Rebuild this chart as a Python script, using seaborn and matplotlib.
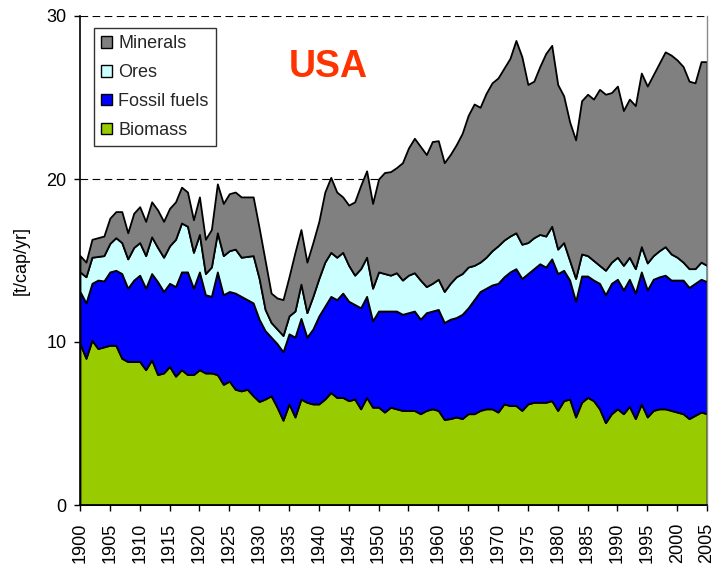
import matplotlib
matplotlib.use("Agg")
import matplotlib.pyplot as plt
from matplotlib.patches import Patch
import numpy as np
import pandas as pd
import seaborn as sns

# Material flows per capita, USA, 1900-2005 [t/cap/yr]
years = list(range(1900, 2006))

biomass = [
    9.9, 9.0, 10.1, 9.6, 9.7, 9.8, 9.8, 9.0, 8.8, 8.8,
    8.8, 8.3, 8.9, 8.0, 8.1, 8.5, 7.9, 8.3, 8.0, 8.0,
    8.3, 8.1, 8.1, 8.0, 7.4, 7.6, 7.1, 7.0, 7.1, 6.7,
    6.35, 6.5, 6.7, 6.0, 5.2, 6.2, 5.4, 6.5, 6.3, 6.2,
    6.2, 6.5, 6.9, 6.6, 6.6, 6.4, 6.5, 5.9, 6.6, 6.0,
    6.0, 5.7, 6.0, 5.9, 5.8, 5.8, 5.8, 5.6, 5.8, 5.9,
    5.8, 5.25, 5.3, 5.4, 5.3, 5.6, 5.6, 5.8, 5.9, 5.9,
    5.7, 6.2, 6.1, 6.1, 5.8, 6.2, 6.3, 6.3, 6.3, 6.4,
    5.8, 6.4, 6.5, 5.4, 6.3, 6.6, 6.4, 5.9, 5.05, 5.6,
    5.9, 5.6, 6.05, 5.3, 6.2, 5.4, 5.8, 5.9, 5.9, 5.8,
    5.7, 5.6, 5.3, 5.5, 5.7, 5.6,
]

fossil_fuels = [
    3.2, 3.4, 3.5, 4.2, 4.05, 4.5, 4.6, 5.2, 4.5, 5.0,
    5.3, 5.0, 5.3, 5.7, 5.0, 5.1, 5.5, 6.0, 6.3, 5.3,
    6.0, 4.8, 4.7, 6.3, 5.5, 5.5, 5.9, 5.8, 5.5, 5.7,
    5.05, 4.2, 3.6, 3.9, 4.2, 4.3, 4.9, 4.95, 4.0, 4.6,
    5.4, 5.7, 5.9, 6.0, 6.4, 6.1, 5.8, 6.2, 6.2, 5.3,
    5.9, 6.2, 5.9, 6.0, 5.9, 6.0, 6.1, 5.8, 6.0, 6.0,
    6.2, 5.95, 6.1, 6.1, 6.4, 6.5, 7.0, 7.3, 7.4, 7.6,
    7.9, 7.8, 8.2, 8.4, 8.1, 8.0, 8.2, 8.5, 8.3, 8.7,
    8.4, 8.0, 7.3, 7.1, 7.75, 7.45, 7.4, 7.7, 7.85, 8.0,
    7.95, 7.6, 7.8, 7.7, 8.1, 7.8, 8.05, 8.1, 8.2, 8.0,
    8.1, 8.2, 8.05, 8.1, 8.15, 8.1,
]

ores = [
    1.2, 1.6, 1.6, 1.45, 1.55, 1.75, 2.0, 1.9, 1.8, 2.0,
    2.0, 2.0, 2.25, 2.1, 2.1, 2.3, 2.9, 3.0, 2.8, 2.2,
    2.3, 1.3, 1.8, 2.4, 2.4, 2.5, 2.7, 2.4, 2.65, 2.9,
    2.5, 1.3, 0.9, 0.9, 1.0, 1.1, 1.6, 2.1, 1.5, 2.0,
    2.3, 2.7, 2.7, 2.6, 2.5, 2.2, 1.8, 2.4, 2.4, 2.0,
    2.4, 2.3, 2.2, 2.35, 2.1, 2.3, 2.35, 2.4, 1.6, 1.7,
    1.85, 1.9, 2.2, 2.5, 2.5, 2.5, 2.1, 1.8, 1.9, 2.1,
    2.3, 2.25, 2.2, 2.2, 2.1, 1.9, 1.9, 1.8, 1.9, 2.0,
    1.5, 1.7, 1.2, 1.4, 1.35, 1.25, 1.2, 1.1, 1.5, 1.3,
    1.35, 1.5, 1.35, 1.5, 1.55, 1.65, 1.45, 1.6, 1.75, 1.6,
    1.4, 1.1, 1.15, 0.9, 1.05, 1.0,
]

minerals = [
    1.0, 0.9, 1.1, 1.15, 1.2, 1.55, 1.6, 1.9, 1.6, 2.1,
    2.2, 2.1, 2.15, 2.3, 2.2, 2.3, 2.3, 2.2, 2.1, 2.0,
    2.3, 2.1, 2.3, 3.0, 3.2, 3.5, 3.5, 3.7, 3.65, 3.6,
    3.1, 3.0, 1.8, 1.9, 2.2, 2.4, 3.6, 3.35, 3.1, 3.3,
    3.5, 4.3, 4.6, 4.0, 3.4, 3.7, 4.5, 5.1, 5.3, 5.2,
    5.7, 6.2, 6.35, 6.45, 7.2, 7.8, 8.25, 8.2, 8.1, 8.7,
    8.5, 7.9, 7.9, 8.1, 8.6, 9.3, 9.9, 9.5, 10.05, 10.3,
    10.3, 10.55, 10.9, 11.8, 11.5, 9.7, 9.6, 10.3, 11.2, 11.1,
    10.1, 9.0, 8.5, 8.5, 9.4, 9.9, 9.9, 10.8, 10.8, 10.4,
    10.5, 9.5, 9.7, 10.0, 10.65, 10.85, 11.1, 11.5, 11.95, 12.2,
    12.1, 12.0, 11.5, 11.4, 12.3, 12.5,
]

series_names = ["Biomass", "Fossil fuels", "Ores", "Minerals"]
series_colors = ["#99CC00", "#0000FF", "#CCFFFF", "#808080"]
x_ticks = list(range(1900, 2006, 5))
x_tick_labels = [str(y) for y in x_ticks]
y_ticks = [0, 10, 20, 30]

df = pd.DataFrame({
    "year": years,
    "Biomass": biomass,
    "Fossil fuels": fossil_fuels,
    "Ores": ores,
    "Minerals": minerals,
})

sns.set_theme(style="white")
plt.rcParams["font.family"] = ["Liberation Sans", "DejaVu Sans"]
plt.rcParams["lines.scale_dashes"] = False

fig = plt.figure(figsize=(7.13, 5.65), dpi=100)
ax = fig.add_axes([80 / 713, 60 / 565, 627 / 713, 489 / 565])

ax.stackplot(
    df["year"],
    *[df[name] for name in series_names],
    colors=series_colors,
    edgecolor="black",
    linewidth=1.3,
    zorder=2,
)

ax.set_xlim(1900, 2005)
ax.set_ylim(0, 30)
ax.set_xticks(x_ticks)
ax.set_xticklabels(x_tick_labels, rotation=90)
ax.set_yticks(y_ticks)

ax.yaxis.grid(True, color="black", linestyle=(0, (5.5, 3.2)), linewidth=0.8)
ax.xaxis.grid(False)
ax.set_axisbelow(True)

for side in ["left", "bottom"]:
    ax.spines[side].set_color("black")
    ax.spines[side].set_linewidth(1.2)
ax.spines["top"].set_visible(False)
ax.spines["right"].set_color("#8a8a8a")
ax.spines["right"].set_linewidth(1.0)

ax.tick_params(axis="both", direction="out", length=4.3, width=1.0,
               color="black", labelsize=13, labelcolor="black",
               bottom=True, left=True)
ax.tick_params(axis="x", pad=8.5)
ax.tick_params(axis="y", pad=5.5)

ax.set_ylabel("[t/cap/yr]", fontsize=13, color="black", labelpad=12)

ax.text(1941.5, 26.9, "USA", color="#FF3300", fontsize=27,
        fontweight="bold", ha="center", va="center")

handles = [Patch(facecolor=c, edgecolor="black", linewidth=1.0, label=n)
           for n, c in zip(series_names, series_colors)][::-1]
leg = ax.legend(handles=handles, loc="upper left",
                bbox_to_anchor=(14 / 627, 477 / 489), borderaxespad=0,
                fontsize=13, frameon=True, fancybox=False,
                handlelength=0.6, handleheight=0.6, handletextpad=0.35,
                labelspacing=0.66, borderpad=0.4)
leg.get_frame().set_edgecolor("black")
leg.get_frame().set_linewidth(1.0)
leg.get_frame().set_facecolor("white")

fig.savefig("out.png", dpi=100)
